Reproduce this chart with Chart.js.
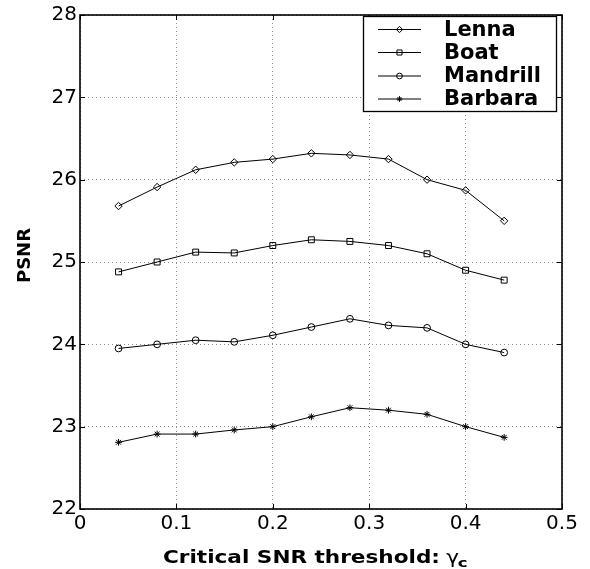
<!DOCTYPE html>
<html><head><meta charset="utf-8">
<script src="https://cdn.jsdelivr.net/npm/chart.js@4"></script>
<style>html,body{margin:0;padding:0;background:#fff}</style>
</head><body>
<canvas id="c" width="590" height="569" style="width:590px;height:569px;display:block"></canvas>
<script>
// ---- data ----
const xValues = [0.04, 0.08, 0.12, 0.16, 0.20, 0.24, 0.28, 0.32, 0.36, 0.40, 0.44];
const seriesNames = ['Lenna', 'Boat', 'Mandrill', 'Barbara'];
const lennaPSNR    = [25.68, 25.91, 26.12, 26.21, 26.25, 26.32, 26.30, 26.25, 26.00, 25.87, 25.50];
const boatPSNR     = [24.88, 25.00, 25.12, 25.11, 25.20, 25.27, 25.25, 25.20, 25.10, 24.90, 24.78];
const mandrillPSNR = [23.95, 24.00, 24.05, 24.03, 24.11, 24.21, 24.31, 24.23, 24.20, 24.00, 23.90];
const barbaraPSNR  = [22.81, 22.91, 22.91, 22.96, 23.00, 23.12, 23.23, 23.20, 23.15, 23.00, 22.87];
const xTicks = [0, 0.1, 0.2, 0.3, 0.4, 0.5];
const yTicks = [22, 23, 24, 25, 26, 27, 28];
const xTitleMain = 'Critical SNR threshold: ';
const xTitleSymbol = 'γ';
const xTitleSub = 'c';
const yTitle = 'PSNR';

const allSeries = [lennaPSNR, boatPSNR, mandrillPSNR, barbaraPSNR];
const markerStyles = [
  {pointStyle: 'rectRot', radius: 3.7},
  {pointStyle: 'rect', radius: 4.2},
  {pointStyle: 'circle', radius: 3.4},
  {pointStyle: 'star', radius: 3.4}
];

const datasets = seriesNames.map((name, k) => ({
  label: name,
  data: xValues.map((x, i) => ({x: x, y: allSeries[k][i]})),
  showLine: true,
  borderColor: '#000',
  borderWidth: 1,
  pointStyle: markerStyles[k].pointStyle,
  pointRadius: markerStyles[k].radius,
  pointHoverRadius: markerStyles[k].radius,
  pointBorderColor: '#000',
  pointBackgroundColor: 'rgba(0,0,0,0)',
  pointBorderWidth: 1,
  tension: 0,
  fill: false
}));

const framePlugin = {
  id: 'frame',
  afterDraw(chart) {
    const {ctx, chartArea: a, scales} = chart;
    ctx.save();
    ctx.strokeStyle = '#000';
    ctx.lineWidth = 1;
    const tl = 5;
    ctx.beginPath();
    xTicks.forEach(v => {
      const px = Math.round(scales.x.getPixelForValue(v)) + 0.5;
      ctx.moveTo(px, a.bottom); ctx.lineTo(px, a.bottom - tl);
      ctx.moveTo(px, a.top); ctx.lineTo(px, a.top + tl);
    });
    yTicks.forEach(v => {
      const py = Math.round(scales.y.getPixelForValue(v)) + 0.5;
      ctx.moveTo(a.left, py); ctx.lineTo(a.left + tl, py);
      ctx.moveTo(a.right, py); ctx.lineTo(a.right - tl, py);
    });
    ctx.stroke();
    ctx.lineWidth = 1.6;
    ctx.strokeRect(a.left, a.top, a.right - a.left, a.bottom - a.top);

    // legend box
    const lx = 363, ly = 16, lw = 193, lh = 95;
    ctx.fillStyle = '#fff';
    ctx.fillRect(lx, ly, lw, lh);
    ctx.lineWidth = 1.3;
    ctx.strokeRect(lx + 0.5, ly + 0.5, lw, lh);
    const rowY = [29.5, 52.5, 76, 99];
    chart.data.datasets.forEach((ds, k) => {
      const y = rowY[k];
      ctx.strokeStyle = '#000';
      ctx.lineWidth = 1;
      ctx.beginPath();
      ctx.moveTo(378, y); ctx.lineTo(421, y);
      ctx.stroke();
      ctx.fillStyle = 'rgba(0,0,0,0)';
      Chart.helpers.drawPoint(ctx, {pointStyle: ds.pointStyle, radius: ds.pointRadius * 0.85, rotation: 0, borderWidth: 1}, 399.5, y);
      ctx.fillStyle = '#000';
      ctx.font = 'bold 21px "DejaVu Sans"';
      ctx.textBaseline = 'middle';
      ctx.textAlign = 'left';
      ctx.fillText(ds.label, 444, y + 1);
    });

    // y-axis title
    ctx.save();
    ctx.translate(25, 255.5);
    ctx.rotate(-Math.PI / 2);
    ctx.font = 'bold 18px "DejaVu Sans"';
    ctx.textAlign = 'center';
    ctx.textBaseline = 'middle';
    ctx.fillStyle = '#000';
    ctx.fillText(yTitle, 0, 0);
    ctx.restore();

    // x-axis title with subscript
    ctx.fillStyle = '#000';
    ctx.textBaseline = 'alphabetic';
    ctx.textAlign = 'left';
    ctx.font = 'bold 17px "DejaVu Sans"';
    const mainW = ctx.measureText(xTitleMain.trim()).width;
    const sx = 277 / mainW;
    ctx.translate(163, 563);
    ctx.scale(sx, 1);
    ctx.fillText(xTitleMain, 0, 0);
    const fullW = ctx.measureText(xTitleMain).width;
    ctx.font = '17px "DejaVu Sans"';
    ctx.fillText(xTitleSymbol, fullW - 1, 0);
    const gW = ctx.measureText(xTitleSymbol).width;
    ctx.font = 'bold 13px "DejaVu Sans"';
    ctx.fillText(xTitleSub, fullW - 1 + gW - 1, 4);
    ctx.restore();
  }
};

new Chart(document.getElementById('c'), {
  type: 'scatter',
  data: {datasets: datasets},
  options: {
    responsive: false,
    animation: false,
    devicePixelRatio: 1,
    layout: {padding: {top: 12, right: 28, left: 0, bottom: 0}},
    plugins: {legend: {display: false}, tooltip: {enabled: false}, title: {display: false}},
    scales: {
      x: {
        type: 'linear', min: 0, max: 0.5,
        afterBuildTicks: s => { s.ticks = xTicks.map(v => ({value: v})); },
        afterFit: s => { s.height = 60; },
        grid: {color: '#8a8a8a', lineWidth: 1, drawTicks: false},
        border: {display: false, dash: [1, 3]},
        ticks: {color: '#000', font: {family: 'DejaVu Sans', size: 20}, padding: 3, maxRotation: 0,
          callback: v => String(v)}
      },
      y: {
        type: 'linear', min: 22, max: 28,
        afterBuildTicks: s => { s.ticks = yTicks.map(v => ({value: v})); },
        afterFit: s => { s.width = 80; },
        grid: {color: '#8a8a8a', lineWidth: 1, drawTicks: false},
        border: {display: false, dash: [1, 3]},
        ticks: {color: '#000', font: {family: 'DejaVu Sans', size: 20}, padding: 3,
          callback: v => String(v)}
      }
    }
  },
  plugins: [framePlugin]
});
</script>
</body></html>
